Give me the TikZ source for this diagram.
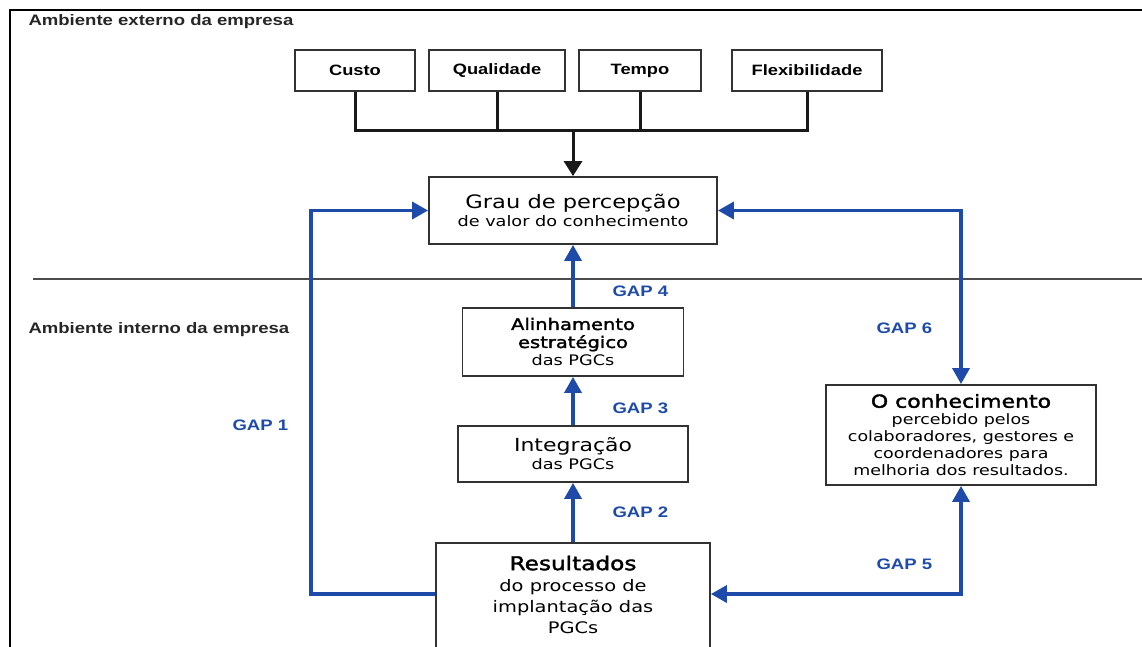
\documentclass[tikz,border=0pt]{standalone}
\usepackage{fontspec}
\setmainfont[FakeStretch=1.22]{Liberation Sans}
\newfontfamily\boxfont[FakeStretch=1.22]{DejaVu Sans}
\newfontfamily\boxheadfont[FakeStretch=1.22,FakeBold=2]{DejaVu Sans}
\usetikzlibrary{arrows.meta}
\definecolor{gapblue}{RGB}{30,75,170}
\definecolor{boxgray}{RGB}{50,50,50}
\newcommand{\heavyhead}[2]{{\boxheadfont\fontsize{#1}{18}\selectfont #2}}
\newcommand{\plainhead}[2]{{\boxfont\fontsize{#1}{18}\selectfont #2}}
\begin{document}
\begin{tikzpicture}
			[x=1pt,y=-1pt,
			factor/.style={draw=boxgray,line width=1.8pt,inner sep=0pt,minimum height=41pt,
				font=\bfseries\fontsize{15}{18}\selectfont},
			stage/.style={draw=boxgray,line width=1.8pt,inner sep=0pt,align=center,
				font=\boxfont\fontsize{14.5}{18}\selectfont},
			region/.style={anchor=base west,text=black!85,font=\bfseries\fontsize{15.2}{18}\selectfont},
			gaplabel/.style={anchor=base west,text=gapblue,font=\bfseries\fontsize{15.2}{18}\selectfont},
			factorline/.style={draw=black!90,line width=3pt,>={Triangle[length=15pt,width=18pt]}},
			gapline/.style={draw=gapblue,line width=3.5pt,>={Triangle[length=16pt,width=17pt]}}]
			\useasboundingbox (0,0) rectangle (1142,647);
			% frame and divider
			\draw[line width=2.5pt] (10,660) -- (10,10) -- (1160,10);
			\draw[line width=1.3pt,draw=black!70] (33,279) -- (1160,279);
			\node[region] (external) at (25,26) {Ambiente externo da empresa};
			\node[region] (internal) at (25,333) {Ambiente interno da empresa};
			% competitive factors
			\node[factor,minimum width=120pt] (custo) at (355,70.5) {Custo};
			\node[factor,minimum width=136pt] (quali) at (497,70.5) {Qualidade};
			\node[factor,minimum width=122pt] (tempo) at (640,70.5) {Tempo};
			\node[factor,minimum width=150pt] (flexi) at (807,70.5) {Flexibilidade};
			% stages
			\node[stage,minimum width=288pt,minimum height=67pt] (grau) at (573,210.5)
				{\plainhead{18.5}{Grau de percepção}\\de valor do conhecimento};
			\node[stage,minimum width=221pt,minimum height=68pt] (alinha) at (573,342)
				{\heavyhead{16}{Alinhamento}\\\heavyhead{16}{estratégico}\\das PGCs};
			\node[stage,minimum width=230pt,minimum height=56pt] (integra) at (573,454)
				{\plainhead{18}{Integração}\\das PGCs};
			\node[stage,minimum width=270pt,minimum height=100pt,
				font=\boxfont\fontsize{14.3}{17}\selectfont] (conhec) at (961,435)
				{\heavyhead{18}{O conhecimento}\\percebido pelos\\colaboradores, gestores e\\coordenadores para\\melhoria dos resultados.};
			\node[stage,anchor=north,minimum width=274pt,minimum height=150pt] (result) at (573,542) {};
			\node[align=center,anchor=north,inner sep=0pt,
				font=\boxfont\fontsize{15.9}{21}\selectfont] (resulttext) at (573,555.5)
				{\heavyhead{19}{Resultados}\\do processo de\\implantação das\\PGCs};
			\coordinate (resl) at ([yshift=-52pt]result.north west);
			\coordinate (resr) at ([yshift=-52pt]result.north east);
			\coordinate (lturn) at (311,210.5);
			\coordinate (merge) at (573,131);
			% factor connectors
			\draw[factorline] (custo.south) |- (flexi.south |- merge) -- (flexi.south);
			\foreach \f in {quali,tempo}
				\draw[factorline] (\f.south) -- (\f.south |- merge);
			\draw[factorline,->] (merge) -- (grau.north);
			% gaps
			\draw[gapline,->] (result.north) -- (integra.south);
			\draw[gapline,->] (integra.north) -- (alinha.south);
			\draw[gapline,->] (alinha.north) -- (grau.south);
			\draw[gapline,<->] (grau.east) -| (conhec.north);
			\draw[gapline,<->] (conhec.south) |- (resr);
			\draw[gapline,->] (resl) -| (lturn) -- (grau.west);
			\node[gaplabel] (gap1) at (229,430) {GAP 1};
			\node[gaplabel] (gap2) at (609,517) {GAP 2};
			\node[gaplabel] (gap3) at (609,413) {GAP 3};
			\node[gaplabel] (gap4) at (609,296) {GAP 4};
			\node[gaplabel] (gap5) at (873,569) {GAP 5};
			\node[gaplabel] (gap6) at (873,333) {GAP 6};
		\end{tikzpicture}
\end{document}
